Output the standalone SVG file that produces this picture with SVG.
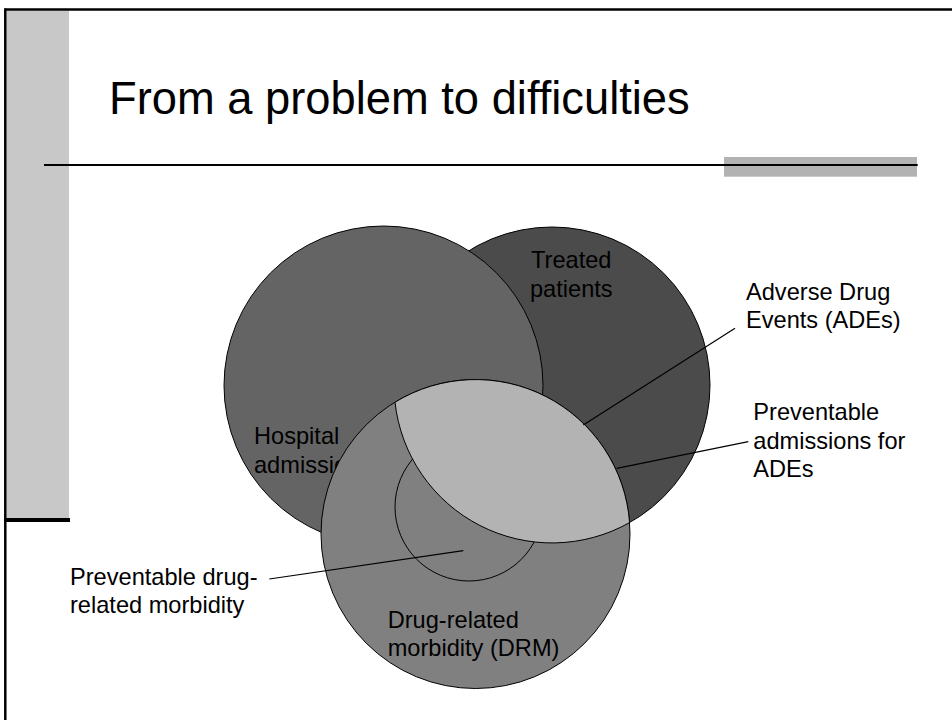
<svg xmlns="http://www.w3.org/2000/svg" width="952" height="720" viewBox="0 0 952 720">
<style>
.lbl{font-family:"Liberation Sans",Arial,sans-serif;font-size:23.6px;fill:#000}
.ttl{font-family:"Liberation Sans",Arial,sans-serif;font-size:45.3px;fill:#000}
.shape{stroke:#000;stroke-width:1}
.conn{stroke:#000;stroke-width:1.2;fill:none}
</style>
<rect width="952" height="720" fill="#fff"/>
<g id="frame">
<rect x="6.5" y="10.5" width="62.5" height="509" fill="#c8c8c8"/>
<line x1="5.3" y1="9.5" x2="952" y2="9.5" stroke="#000" stroke-width="2.5"/>
<line x1="5.3" y1="8.3" x2="5.3" y2="720" stroke="#000" stroke-width="2.5"/>
<line x1="4" y1="520" x2="70" y2="520" stroke="#000" stroke-width="4"/>
<rect x="724" y="157" width="193" height="19.7" fill="#b2b2b2"/>
<line x1="44" y1="165" x2="917.7" y2="165" stroke="#000" stroke-width="2"/>
</g>
<g id="title"><text class="ttl" x="109" y="113.5">From a problem to difficulties</text></g>
<g id="treated">
<circle class="shape" cx="552" cy="385" r="158" fill="#4b4b4b"/>
<text class="lbl" x="531" y="268.3">Treated</text>
<text class="lbl" x="530" y="296.7">patients</text>
</g>
<g id="hospital">
<circle class="shape" cx="383.5" cy="385.5" r="159.5" fill="#646464"/>
<text class="lbl" x="254" y="444">Hospital</text>
<text class="lbl" x="254" y="472.5">admissions</text>
</g>
<g id="drm">
<circle class="shape" cx="475.5" cy="534" r="154.5" fill="#808080"/>
<text class="lbl" x="387.7" y="627.7">Drug-related</text>
<text class="lbl" x="387.7" y="655.7">morbidity (DRM)</text>
</g>
<g id="preventable-drm">
<circle class="shape" cx="469" cy="507" r="74" fill="#808080"/>
</g>
<g id="ades">
<path class="shape" d="M395 402.2 A154.5 154.5 0 0 1 629.6 522.6 A158 158 0 0 1 395 402.2 Z" fill="#b3b3b3"/>
</g>
<g id="connectors">
<line class="conn" x1="735" y1="328.3" x2="583.3" y2="425"/>
<line class="conn" x1="748.3" y1="441.7" x2="616.7" y2="468.3"/>
<line class="conn" x1="269.3" y1="579" x2="463.3" y2="550.7"/>
</g>
<g id="label-ades">
<text class="lbl" x="746" y="300">Adverse Drug</text>
<text class="lbl" x="746" y="328">Events (ADEs)</text>
</g>
<g id="label-prev-adm">
<text class="lbl" x="753.3" y="420">Preventable</text>
<text class="lbl" x="753.3" y="449">admissions for</text>
<text class="lbl" x="753.3" y="477">ADEs</text>
</g>
<g id="label-prev-drm">
<text class="lbl" x="70" y="585">Preventable drug-</text>
<text class="lbl" x="70" y="613.3">related morbidity</text>
</g>
</svg>
